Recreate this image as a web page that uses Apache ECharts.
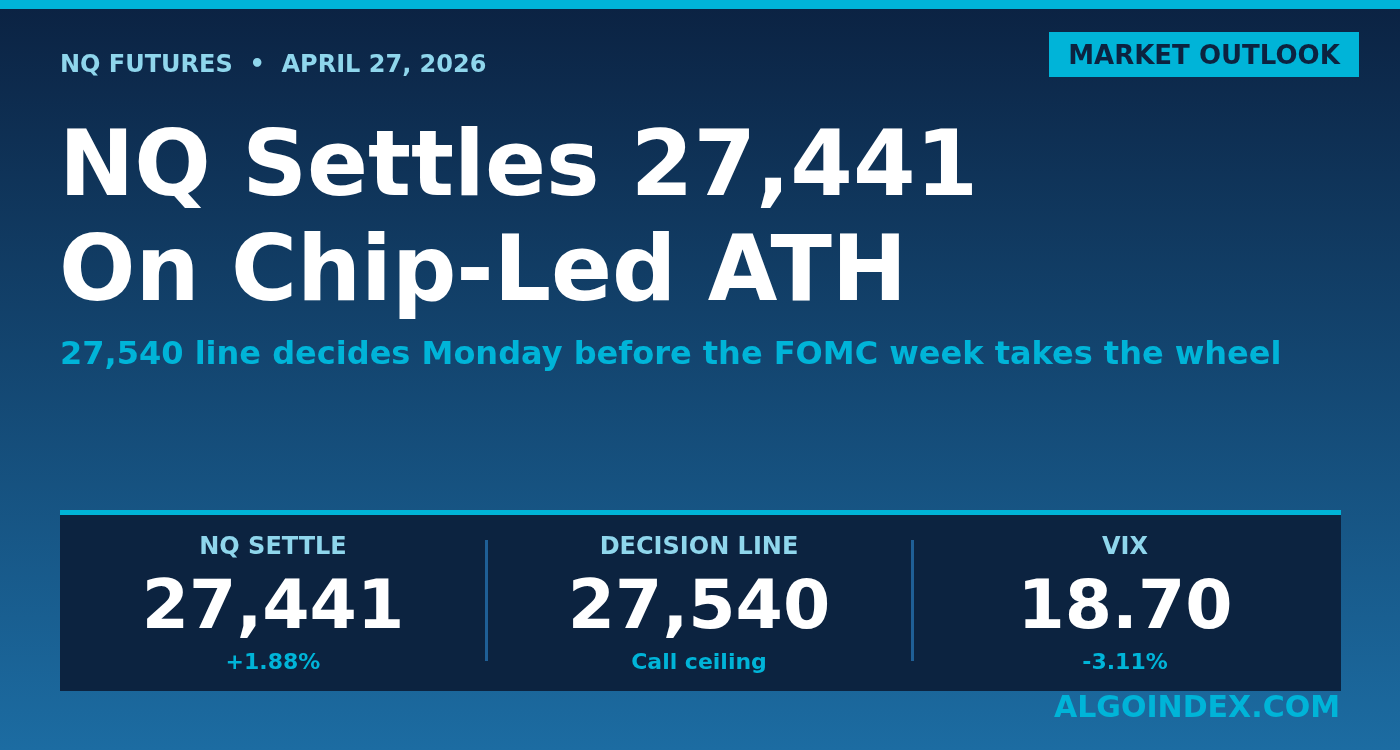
<!DOCTYPE html>
<html><head><meta charset="utf-8">
<script src="https://cdn.jsdelivr.net/npm/echarts@6/dist/echarts.min.js"></script>
<style>html,body{margin:0;padding:0;background:#0b2242}#c{width:1400px;height:750px}</style>
</head><body><div id="c"></div>
<script>
const kicker = 'NQ FUTURES  •  APRIL 27, 2026';
const badge = 'MARKET OUTLOOK';
const titleLines = ['NQ Settles 27,441', 'On Chip-Led ATH'];
const subtitle = '27,540 line decides Monday before the FOMC week takes the wheel';
const statLabels = ['NQ SETTLE', 'DECISION LINE', 'VIX'];
const statValues = ['27,441', '27,540', '18.70'];
const statNotes = ['+1.88%', 'Call ceiling', '-3.11%'];
const brand = 'ALGOINDEX.COM';

const F = 'DejaVu Sans';
const chart = echarts.init(document.getElementById('c'));
const g = [];
g.push({type:'rect',shape:{x:0,y:0,width:1400,height:750},style:{fill:new echarts.graphic.LinearGradient(0,0,0,1,[{offset:0,color:'#0b2242'},{offset:1,color:'#1c6ca2'}])}});
g.push({type:'rect',shape:{x:0,y:0,width:1400,height:9},style:{fill:'#00b4d8'}});
g.push({type:'text',x:60,y:66,style:{text:kicker,fill:'#8fd6ec',font:'bold 24px '+F,textVerticalAlign:'middle'}});
g.push({type:'rect',shape:{x:1049,y:32,width:310,height:45},style:{fill:'#00b4d8'}});
g.push({type:'text',x:1204,y:57,style:{text:badge,fill:'#0c2340',font:'bold 26px '+F,textAlign:'center',textVerticalAlign:'middle'}});
titleLines.forEach((t,i)=>g.push({type:'text',x:59,y:172+i*105,style:{text:t,fill:'#ffffff',font:'bold 90px '+F,textVerticalAlign:'middle'}}));
g.push({type:'text',x:60,y:356,style:{text:subtitle,fill:'#00b4d8',font:'bold 32px '+F,textVerticalAlign:'middle'}});
g.push({type:'rect',shape:{x:60,y:510,width:1281,height:181},style:{fill:'#0c2340'}});
g.push({type:'rect',shape:{x:60,y:510,width:1281,height:5},style:{fill:'#00b4d8'}});
[486,912].forEach(x=>g.push({type:'rect',shape:{x:x-1,y:540,width:3,height:121},style:{fill:'#1f5f96'}}));
statLabels.forEach((l,i)=>{
  const cx = 273 + i*426;
  g.push({type:'text',x:cx,y:548,style:{text:l,fill:'#8fd6ec',font:'bold 24px '+F,textAlign:'center',textVerticalAlign:'middle'}});
  g.push({type:'text',x:cx,y:610,style:{text:statValues[i],fill:'#ffffff',font:'bold 68px '+F,textAlign:'center',textVerticalAlign:'middle'}});
  g.push({type:'text',x:cx,y:663,style:{text:statNotes[i],fill:'#00b4d8',font:'bold 22px '+F,textAlign:'center',textVerticalAlign:'middle'}});
});
g.push({type:'text',x:1340,y:709,style:{text:brand,fill:'#00b4d8',font:'bold 30px '+F,textAlign:'right',textVerticalAlign:'middle'}});
chart.setOption({graphic:{elements:g}});
</script></body></html>
